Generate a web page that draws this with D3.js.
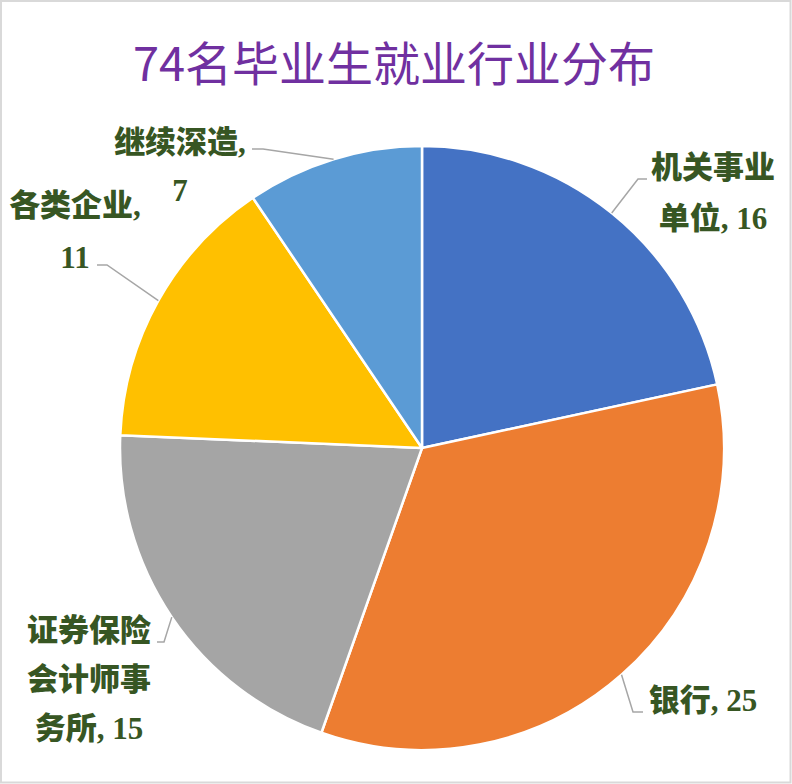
<!DOCTYPE html>
<html>
<head>
<meta charset="utf-8">
<script src="https://cdn.jsdelivr.net/npm/d3@7/dist/d3.min.js"></script>
<style>
  html, body { margin: 0; padding: 0; background: #fff; }
  svg { display: block; }
</style>
</head>
<body>
<script>
// ---- data ----
const title = "74名毕业生就业行业分布";
const categories = ["机关事业单位", "银行", "证券保险会计师事务所", "各类企业", "继续深造"];
const values = [16, 25, 15, 11, 7];
const colors = ["#4472c4", "#ed7d31", "#a5a5a5", "#ffc000", "#5b9bd5"];
// label text lines (as shown in the chart)
const labelLines = [
  ["机关事业", "单位, 16"],
  ["银行, 25"],
  ["证券保险", "会计师事", "务所, 15"],
  ["各类企业,", "11"],
  ["继续深造,", "7"]
];

// ---- layout (positions/styling only) ----
const W = 792, H = 784;
const cx = 422, cy = 448, R = 302;
const labelLayout = [
  {x: 713, y: 167, step: 51, elbow: [638, 179], end: [647, 179]},
  {x: 703, y: 700, step: 50, elbow: [633, 712], end: [643, 712]},
  {x: 89,  y: 630, step: 49, elbow: [164, 642], end: [157, 642]},
  {x: 75,  y: 205, step: 52, elbow: [107, 265], end: [97, 265]},
  {x: 180, y: 142, step: 48, elbow: [263, 149], end: [252, 149]}
];

const svg = d3.select("body").append("svg")
  .attr("width", W).attr("height", H);

svg.append("rect")
  .attr("x", 1).attr("y", 1).attr("width", W - 2.5).attr("height", H - 2.5)
  .attr("fill", "#fff").attr("stroke", "#d9d9d9").attr("stroke-width", 2);

svg.append("text")
  .attr("x", 394).attr("y", 81)
  .attr("text-anchor", "middle")
  .attr("font-family", "'Noto Sans CJK SC', sans-serif")
  .attr("font-size", 47)
  .attr("fill", "#7030a0")
  .text(title);

const data = categories.map((c, i) => ({cat: c, value: values[i], color: colors[i], lines: labelLines[i], lay: labelLayout[i]}));

const pie = d3.pie().value(d => d.value).sort(null);
const arcs = pie(data);
const arc = d3.arc().innerRadius(0).outerRadius(R);

const g = svg.append("g").attr("transform", `translate(${cx},${cy})`);

g.selectAll("path.slice").data(arcs).join("path")
  .attr("class", "slice")
  .attr("d", arc)
  .attr("fill", d => d.data.color)
  .attr("stroke", "#fff")
  .attr("stroke-width", 2.5)
  .attr("stroke-linejoin", "round");

// leader lines
arcs.forEach(a => {
  const mid = (a.startAngle + a.endAngle) / 2;
  const sx = cx + R * Math.sin(mid), sy = cy - R * Math.cos(mid);
  const L = a.data.lay;
  svg.append("polyline")
    .attr("points", [[sx, sy], L.elbow, L.end].map(p => p.join(",")).join(" "))
    .attr("fill", "none")
    .attr("stroke", "#a6a6a6")
    .attr("stroke-width", 1.5);
});

// labels
arcs.forEach(a => {
  const L = a.data.lay;
  const t = svg.append("text")
    .attr("text-anchor", "middle")
    .attr("font-family", "'Liberation Serif', 'Noto Sans CJK SC', serif")
    .attr("font-weight", 900)
    .attr("font-size", 31)
    .attr("fill", "#375623");
  a.data.lines.forEach((ln, i) => {
    t.append("tspan")
      .attr("x", L.x)
      .attr("y", L.y + i * L.step + 11)
      .text(ln);
  });
});
</script>
</body>
</html>
